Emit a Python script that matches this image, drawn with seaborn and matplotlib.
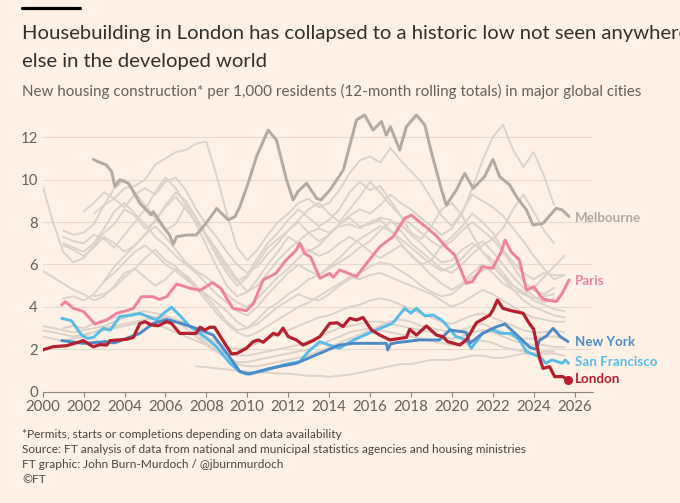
import numpy as np
import pandas as pd
import matplotlib
matplotlib.use('Agg')
import matplotlib.pyplot as plt
from matplotlib.lines import Line2D
import seaborn as sns

# highlighted cities (year, homes per 1,000 residents)
london_years = [2000.0, 2000.5, 2001.17, 2001.66, 2001.98, 2002.47, 2002.8, 2003.13, 2003.29, 2004.1,
                2004.43, 2004.75, 2005.0, 2005.3, 2005.65, 2006.06, 2006.3, 2006.7, 2007.28, 2007.5,
                2007.69, 2007.93, 2008.17, 2008.4, 2009.23, 2009.5, 2009.96, 2010.29, 2010.53, 2010.78,
                2011.27, 2011.5, 2011.75, 2012.0, 2012.4, 2012.73, 2013.22, 2013.55, 2014.03, 2014.4,
                2014.68, 2015.01, 2015.34, 2015.66, 2016.07, 2016.48, 2016.97, 2017.78, 2017.94, 2018.27,
                2018.76, 2019.25, 2019.57, 2019.8, 2020.39, 2020.71, 2021.2, 2021.85, 2022.01, 2022.23,
                2022.5, 2022.9, 2023.48, 2023.8, 2024.0, 2024.29, 2024.46, 2024.78, 2025.03, 2025.43,
                2025.68]
london_vals = [1.97, 2.12, 2.17, 2.31, 2.41, 2.12, 2.22, 2.2, 2.41, 2.47,
               2.56, 3.22, 3.30, 3.15, 3.11, 3.30, 3.22, 2.75, 2.75, 2.75,
               3.04, 2.91, 3.04, 3.04, 1.78, 1.81, 2.05, 2.36, 2.44, 2.33,
               2.75, 2.67, 3.0, 2.6, 2.44, 2.2, 2.41, 2.6, 3.22, 3.25,
               3.07, 3.46, 3.38, 3.5, 2.91, 2.67, 2.44, 2.56, 2.94, 2.67,
               3.1, 2.67, 2.59, 2.36, 2.2, 2.44, 3.25, 3.61, 3.85, 4.32,
               3.93, 3.82, 3.70, 3.2, 2.95, 1.57, 1.1, 1.18, 0.71, 0.71,
               0.55]

paris_years = [2000.93, 2001.1, 2001.5, 2002.0, 2002.55, 2003.13, 2003.6, 2004.1, 2004.43, 2004.83,
               2005.4, 2005.7, 2006.06, 2006.55, 2007.2, 2007.7, 2008.3, 2008.7, 2009.3, 2009.96,
               2010.3, 2010.78, 2011.1, 2011.4, 2011.9, 2012.4, 2012.57, 2012.8, 2013.1, 2013.55,
               2014.03, 2014.2, 2014.52, 2015.34, 2015.83, 2016.48, 2017.13, 2017.7, 2018.03, 2018.3,
               2018.7, 2019.25, 2019.7, 2020.14, 2020.71, 2021.0, 2021.5, 2021.99, 2022.42, 2022.6,
               2022.9, 2023.3, 2023.65, 2024.0, 2024.46, 2025.1, 2025.4, 2025.73]
paris_vals = [4.09, 4.25, 3.93, 3.78, 3.19, 3.38, 3.69, 3.82, 3.93, 4.48,
              4.48, 4.35, 4.48, 5.08, 4.88, 4.78, 5.15, 4.88, 3.93, 3.82,
              4.15, 5.27, 5.43, 5.58, 6.21, 6.68, 7.0, 6.52, 6.35, 5.35,
              5.58, 5.4, 5.74, 5.43, 6.05, 6.84, 7.31, 8.18, 8.33, 8.1,
              7.8, 7.34, 6.84, 6.45, 5.11, 5.19, 5.9, 5.82, 6.6, 7.15,
              6.6, 6.21, 4.8, 4.95, 4.36, 4.25, 4.64, 5.27]

newyork_years = [2000.93, 2001.98, 2003.1, 2003.5, 2004.75, 2005.4, 2006.06, 2006.7, 2007.5, 2008.33,
                 2009.0, 2009.64, 2010.1, 2011.1, 2012.4, 2013.55, 2014.5, 2015.2, 2016.8, 2016.87,
                 2017.0, 2017.3, 2018.4, 2019.4, 2019.9, 2020.7, 2020.88, 2021.5, 2022.2, 2022.6,
                 2023.15, 2023.8, 2024.1, 2024.3, 2024.6, 2024.95, 2025.3, 2025.68]
newyork_vals = [2.41, 2.28, 2.36, 2.3, 2.75, 3.22, 3.41, 3.24, 2.99, 2.67,
                1.81, 0.95, 0.83, 1.1, 1.34, 1.81, 2.2, 2.28, 2.28, 1.97,
                2.25, 2.31, 2.44, 2.44, 2.91, 2.8, 2.28, 2.75, 3.07, 3.19,
                2.7, 2.1, 2.0, 2.44, 2.6, 2.99, 2.6, 2.36]

sanfran_years = [2000.93, 2001.4, 2001.9, 2002.2, 2002.5, 2002.96, 2003.3, 2003.77, 2004.43, 2004.75,
                 2005.57, 2005.9, 2006.3, 2006.7, 2007.2, 2007.5, 2008.0, 2008.5, 2009.15, 2009.64,
                 2009.96, 2010.94, 2011.75, 2012.57, 2013.0, 2013.55, 2014.0, 2014.5, 2015.2, 2016.3,
                 2017.1, 2017.7, 2018.0, 2018.27, 2018.7, 2019.08, 2019.5, 2019.73, 2020.2, 2020.7,
                 2020.95, 2021.5, 2021.93, 2022.4, 2022.9, 2023.3, 2023.65, 2024.05, 2024.3, 2024.6,
                 2024.9, 2025.4, 2025.55, 2025.7]
sanfran_vals = [3.46, 3.35, 2.67, 2.5, 2.58, 2.99, 2.9, 3.54, 3.62, 3.69,
                3.38, 3.69, 3.98, 3.6, 3.07, 2.9, 2.52, 2.12, 1.34, 0.94,
                0.83, 1.02, 1.26, 1.42, 1.9, 2.36, 2.2, 2.05, 2.44, 2.91,
                3.22, 3.93, 3.7, 3.93, 3.57, 3.62, 3.38, 3.15, 2.6, 2.44,
                2.05, 2.75, 2.94, 2.75, 2.75, 2.44, 1.89, 1.73, 1.65, 1.34,
                1.5, 1.34, 1.5, 1.34]

melbourne_years = [2002.47, 2002.7, 2003.1, 2003.37, 2003.53, 2003.77, 2004.2, 2004.75, 2005.3, 2005.4,
                   2005.9, 2006.2, 2006.38, 2006.55, 2007.04, 2007.5, 2007.85, 2008.34, 2008.5, 2009.07,
                   2009.4, 2009.64, 2010.04, 2010.45, 2011.02, 2011.43, 2011.92, 2012.24, 2012.47, 2012.9,
                   2013.39, 2013.6, 2014.04, 2014.7, 2015.34, 2015.74, 2016.15, 2016.56, 2016.8, 2017.0,
                   2017.45, 2017.78, 2018.27, 2018.68, 2019.0, 2019.5, 2019.73, 2020.22, 2020.63, 2021.04,
                   2021.6, 2022.01, 2022.34, 2022.83, 2023.16, 2023.65, 2023.97, 2024.46, 2025.1, 2025.4,
                   2025.73]
melbourne_vals = [10.96, 10.85, 10.7, 10.38, 9.67, 10.0, 9.83, 8.89, 8.34, 8.49,
                  7.78, 7.39, 6.95, 7.31, 7.39, 7.39, 7.78, 8.41, 8.65, 8.1,
                  8.26, 8.73, 9.83, 11.08, 12.34, 11.87, 9.99, 9.04, 9.43, 9.83,
                  9.12, 9.04, 9.51, 10.46, 12.82, 13.05, 12.34, 12.74, 12.1, 12.5,
                  11.4, 12.5, 13.05, 12.58, 11.3, 9.51, 8.8, 9.51, 10.3, 9.59,
                  10.14, 10.96, 10.14, 9.75, 9.2, 8.57, 7.86, 7.94, 8.65, 8.57,
                  8.26]

# other cities (unlabelled): half-yearly values from their first year
grey_a = [8.5, 8.9, 9.4, 9.1, 9.6, 9.7, 10.0, 10.7, 11.0, 11.3,
          11.4, 11.7, 11.8, 10.2, 8.4, 6.8, 6.2, 6.7, 7.4, 8.0,
          8.4, 8.9, 9.1, 8.7, 8.9, 9.5, 10.3, 10.9, 11.1, 10.8,
          11.5, 10.9, 10.4, 9.9, 9.1, 8.3, 7.8, 8.5, 9.3, 9.0,
          8.7, 8.3, 7.7, 7.1, 6.4, 5.8, 5.3, 5.5]
grey_b = [9.7, 8.0, 6.6, 6.1, 6.3, 6.9, 7.5, 7.9, 8.6, 8.3,
          7.7, 8.0, 8.8, 9.4, 9.0, 8.2, 7.3, 6.4, 5.6, 5.0,
          5.4, 6.1, 6.8, 7.2, 7.6, 8.0, 7.5, 7.1, 7.4, 7.9,
          8.3, 8.6, 8.4, 8.8, 9.3, 8.9, 8.6, 8.2, 7.8, 7.4,
          7.7, 8.4, 9.6, 10.9, 12.0, 12.6, 11.4, 10.6, 11.3, 10.2,
          8.8]
grey_c = [7.6, 7.4, 7.5, 7.9, 8.8, 9.6, 10.0, 9.4,
          8.8, 8.2, 7.6, 7.9, 8.8, 8.2, 7.4, 6.6, 5.8, 5.2,
          5.5, 6.3, 7.0, 7.5, 8.1, 8.6, 8.2, 7.8, 8.1, 8.6,
          9.4, 9.9, 9.5, 9.7, 9.0, 8.3, 7.5, 7.2, 7.8, 8.6,
          8.9, 8.3, 7.4, 6.6, 6.0, 5.4, 5.0, 4.6, 4.4, 4.5,
          4.6]
grey_d = [7.3, 7.1, 7.0, 7.4, 7.2, 6.8, 7.4, 8.0,
          8.6, 9.4, 10.1, 9.6, 8.8, 7.9, 6.9, 5.9, 5.0, 4.5,
          4.7, 5.3, 6.0, 6.6, 7.3, 7.0, 6.6, 6.9, 7.4, 7.9,
          8.2, 7.8, 7.9, 8.1, 7.6, 7.0, 6.4, 6.0, 6.2, 6.9,
          7.3, 7.8, 8.4, 8.0, 7.5, 6.7, 6.1, 5.6, 5.3, 5.6,
          5.5, 5.5]
grey_e = [7.0, 6.8, 6.6, 7.0, 7.7, 8.5, 8.9, 8.4,
          7.9, 7.3, 6.9, 6.4, 6.0, 5.6, 5.1, 4.6, 4.2, 3.8,
          3.6, 4.0, 4.6, 5.1, 5.6, 6.0, 5.7, 5.5, 5.9, 6.3,
          6.8, 7.2, 7.5, 7.8, 7.6, 7.2, 6.8, 6.4, 6.0, 5.7,
          5.9, 6.3, 6.8, 7.1, 6.6, 6.0, 5.4, 4.9, 4.5, 4.2,
          4.4]
grey_f = [5.7, 5.4, 5.1, 4.8, 4.6, 4.3, 4.5, 5.0, 5.6, 5.8,
          5.4, 5.0, 5.3, 5.8, 5.5, 5.0, 4.5, 3.9, 3.3, 2.9,
          3.0, 3.4, 3.9, 4.2, 4.6, 4.9, 5.3, 5.5, 5.8, 6.1,
          6.4, 6.8, 7.1, 7.6, 8.0, 7.9, 7.4, 7.0, 6.5, 6.1,
          6.2, 6.7, 7.0, 6.6, 6.2, 5.6, 5.0, 4.7, 4.3, 4.1,
          3.9, 3.8]
grey_g = [4.5, 4.6, 4.9, 5.4, 5.8,
          6.3, 6.7, 6.2, 5.9, 5.4, 4.9, 4.6, 4.2, 3.8, 3.3,
          3.0, 3.2, 3.6, 4.0, 4.3, 4.6, 4.4, 4.3, 4.6, 5.0,
          5.3, 5.6, 5.9, 6.1, 6.0, 5.7, 5.4, 5.0, 4.7, 4.5,
          4.6, 5.0, 5.4, 5.7, 5.9, 5.4, 4.8, 4.3, 4.0, 3.8,
          3.6, 3.5]
grey_h = [4.4, 4.5, 4.3, 4.6, 5.2, 5.9, 6.4, 6.9,
          7.4, 7.8, 7.3, 6.7, 6.1, 5.7, 5.4, 5.0, 4.6, 4.2,
          4.0, 4.4, 4.9, 5.4, 5.8, 6.3, 6.7, 6.4, 6.6, 7.0,
          7.3, 7.0, 6.6, 6.3, 6.6, 6.9, 6.5, 6.0, 5.5, 5.1,
          4.8, 5.1, 5.6, 6.0, 5.6, 5.1, 4.8, 4.6, 4.9, 5.4,
          5.9, 6.4]
grey_i = [3.1, 3.0, 2.9, 2.8, 2.9, 3.0, 3.1, 3.3, 3.5, 3.7,
          3.8, 3.7, 3.6, 3.4, 3.2, 2.9, 2.6, 2.3, 2.1, 2.0,
          2.1, 2.3, 2.5, 2.7, 2.9, 3.1, 3.3, 3.5, 3.6, 3.8,
          4.0, 4.1, 4.3, 4.4, 4.3, 4.1, 3.9, 3.7, 3.5, 3.3,
          3.2, 3.4, 3.6, 3.7, 3.5, 3.3, 3.1, 2.9, 2.8, 2.8,
          2.9, 2.8]
grey_j = [2.9, 2.8, 2.7, 2.6, 2.7, 2.8, 2.9, 3.0, 3.1, 3.2,
          3.3, 3.2, 3.0, 2.8, 2.6, 2.4, 2.2, 2.0, 1.8, 1.7,
          1.7, 1.8, 1.9, 2.0, 2.1, 2.2, 2.4, 2.6, 2.8, 3.0,
          3.1, 3.2, 3.3, 3.3, 3.2, 3.1, 3.0, 2.9, 2.8, 2.6,
          2.5, 2.6, 2.8, 2.9, 2.8, 2.6, 2.4, 2.3, 2.2, 2.2,
          2.1, 2.1]
grey_k = [3.0, 3.1, 3.0, 3.2, 3.4, 3.5, 3.6, 3.7,
          3.6, 3.5, 3.4, 3.3, 3.0, 2.6, 2.2, 1.9, 1.6, 1.4,
          1.4, 1.5, 1.6, 1.7, 1.8, 1.9, 2.0, 2.2, 2.4, 2.6,
          2.8, 2.9, 3.0, 2.9, 2.8, 2.7, 2.6, 2.5, 2.4, 2.3,
          2.2, 2.3, 2.4, 2.4, 2.3, 2.1, 2.0, 1.9, 1.8, 1.8,
          1.8, 1.7]
grey_l = [1.2, 1.15, 1.1, 1.05, 1.0,
          0.95, 0.9, 0.9, 0.85, 0.85, 0.8, 0.75, 0.75, 0.7, 0.75,
          0.8, 0.9, 1.0, 1.1, 1.2, 1.3, 1.3, 1.4, 1.5, 1.5,
          1.5, 1.6, 1.7, 1.7, 1.6, 1.6, 1.7, 1.8, 1.8, 1.9,
          1.9]
grey_m = [5.2, 5.6, 6.1, 6.6,
          6.9, 6.5, 6.0, 5.7, 5.3, 4.9, 4.3, 3.7, 3.2, 2.8,
          2.6, 2.8, 3.1, 3.4, 3.7, 4.0, 4.2, 4.5, 4.8, 5.1,
          5.4, 5.3, 5.5, 5.6, 5.4, 5.2, 5.0, 4.8, 4.6, 4.3,
          4.0, 4.2, 4.5, 4.8, 4.6, 4.3, 4.0, 3.7, 3.5, 3.4,
          3.3, 3.3]
grey_n = [6.9, 6.7, 6.4, 6.8, 7.3, 7.0, 6.6, 6.9,
          7.4, 8.1, 8.7, 9.2, 8.6, 8.0, 7.4, 6.7, 6.0, 5.3,
          4.7, 5.0, 5.6, 6.2, 6.7, 7.1, 7.5, 7.7, 7.5, 7.8,
          7.9, 7.7, 8.0, 8.2, 8.1, 7.6, 7.0, 6.6, 6.2, 5.8,
          5.6, 6.0, 6.5, 6.9, 7.2, 6.6, 5.9, 5.2, 4.8, 4.6,
          4.9]
grey_o = [8.4, 8.8, 9.1, 8.7, 9.3,
          9.6, 9.3, 9.9, 10.1, 9.5, 8.6, 7.9, 7.3, 6.6, 6.0,
          5.6, 5.9, 6.5, 7.0, 7.6, 8.1, 8.6, 8.9, 8.4, 8.0,
          8.6, 9.2, 9.9, 9.4, 8.8, 8.3, 7.9, 7.5, 7.1, 6.8,
          7.1, 7.6, 8.0, 7.6, 7.2, 7.7, 8.6, 9.3, 8.5, 7.6,
          7.0]
grey_p = [2.6, 2.5, 2.4, 2.5, 2.6, 2.8, 3.0, 3.1, 3.2, 3.3,
          3.4, 3.5, 3.5, 3.4, 3.2, 2.8, 2.3, 1.9, 1.6, 1.3,
          1.2, 1.2, 1.3, 1.4, 1.5, 1.6, 1.7, 1.9, 2.1, 2.3,
          2.5, 2.7, 2.9, 3.1, 3.3, 3.4, 3.3, 3.1, 3.0, 2.9,
          2.8, 2.9, 3.1, 3.2, 3.0, 2.8, 2.6, 2.5, 2.5, 2.6,
          2.6, 2.5]

grey_lines = [('a', 2002.0, grey_a), ('b', 2000.0, grey_b), ('c', 2001.0, grey_c),
              ('d', 2001.0, grey_d), ('e', 2001.0, grey_e), ('f', 2000.0, grey_f),
              ('g', 2002.5, grey_g), ('h', 2001.0, grey_h), ('i', 2000.0, grey_i),
              ('j', 2000.0, grey_j), ('k', 2001.0, grey_k), ('l', 2007.5, grey_l),
              ('m', 2003.0, grey_m), ('n', 2001.0, grey_n), ('o', 2002.5, grey_o),
              ('p', 2000.0, grey_p)]

rows = []
for name, start, vals in grey_lines:
    for i, v in enumerate(vals):
        rows.append({'city': name, 'year': start + 0.5 * i, 'value': v})
grey_df = pd.DataFrame(rows)

BG = '#FFF1E5'
GREY = '#DCD2C9'
MELB = '#B2A9A2'
PARIS = '#F0829F'
NY = '#4C8BC8'
SF = '#57BCE6'
LONDON = '#B4202E'
TEXT = '#33302E'
MUTED = '#66605C'

sns.set_style('white', rc={'axes.facecolor': BG, 'figure.facecolor': BG})
plt.rcParams['font.family'] = ['Lato', 'DejaVu Sans']

fig = plt.figure(figsize=(6.8, 5.03), dpi=100)
ax = fig.add_axes([0.0628, 0.2213, 0.8092, 0.5606])

sns.lineplot(data=grey_df, x='year', y='value', units='city', estimator=None,
             color=GREY, lw=1.4, ax=ax, legend=False, zorder=2)

series = [(melbourne_years, melbourne_vals, MELB, 2.1),
          (paris_years, paris_vals, PARIS, 2.1),
          (sanfran_years, sanfran_vals, SF, 2.1),
          (newyork_years, newyork_vals, NY, 2.1),
          (london_years, london_vals, LONDON, 2.3)]
for i, (xs, ys, col, lw) in enumerate(series):
    sns.lineplot(x=xs, y=ys, color=col, lw=lw, estimator=None, ax=ax, zorder=3 + i)

ax.plot(london_years[-1], london_vals[-1], 'o', ms=5.5, color=LONDON, zorder=10)

labels = [('Melbourne', 8.2, MELB), ('Paris', 5.22, PARIS), ('New York', 2.34, NY),
          ('San Francisco', 1.39, SF), ('London', 0.58, LONDON)]
for name, yv, col in labels:
    ax.text(2026.0, yv, name, color=col, fontsize=9.6, fontweight='bold',
            va='center', ha='left', clip_on=False)

ax.set_xlim(2000, 2026.9)
ax.set_ylim(0, 13.3)
ax.set_xticks(range(2000, 2027, 2))
ax.set_yticks(range(0, 13, 2))
ax.set_xlabel('')
ax.set_ylabel('')
ax.yaxis.grid(True, color='#E6D9CE', lw=0.8, zorder=0)
ax.xaxis.grid(False)
ax.set_axisbelow(True)
for s in ['left', 'right', 'top']:
    ax.spines[s].set_visible(False)
ax.spines['bottom'].set_color('#8A837E')
ax.spines['bottom'].set_linewidth(0.8)
ax.tick_params(axis='x', length=3.6, width=0.8, color='#8A837E', pad=2.5,
               labelsize=10.8, labelcolor=MUTED, direction='out', bottom=True)
ax.tick_params(axis='y', length=0, pad=3.5, labelsize=10.8, labelcolor=MUTED)

fig.add_artist(Line2D([22 / 680, 80 / 680], [0.984, 0.984], color='#000000', lw=2.3))
fig.text(22 / 680, 1 - 33 / 503, 'Housebuilding in London has collapsed to a historic low not seen anywhere',
         fontsize=14.6, color=TEXT, va='center')
fig.text(22 / 680, 1 - 62 / 503, 'else in the developed world', fontsize=14.6, color=TEXT, va='center')
fig.text(22 / 680, 1 - 91 / 503,
         'New housing construction* per 1,000 residents (12-month rolling totals) in major global cities',
         fontsize=10.9, color=MUTED, va='center')

footer = ['*Permits, starts or completions depending on data availability',
          'Source: FT analysis of data from national and municipal statistics agencies and housing ministries',
          'FT graphic: John Burn-Murdoch / @jburnmurdoch',
          '\u00a9FT']
for k, line in enumerate(footer):
    fig.text(22 / 680, 1 - (434 + 15.2 * k) / 503, line, fontsize=8.6, color='#4A4542', va='center')

fig.savefig('out.png', dpi=100, facecolor=BG)
